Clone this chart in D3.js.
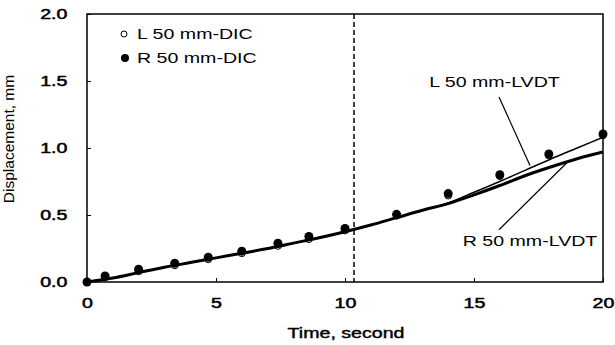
<!DOCTYPE html>
<html>
<head>
<meta charset="utf-8">
<script src="https://cdn.jsdelivr.net/npm/d3@7"></script>
<style>
  body { margin: 0; background: #fff; }
  text { font-family: "Liberation Sans", Arial, sans-serif; fill: #000; }
</style>
</head>
<body>
<svg id="chart" width="615" height="345"></svg>
<script>
// DIC readings (markers)
const dicTime = [0, 0.7, 2.0, 3.4, 4.7, 6.0, 7.4, 8.6, 10.0, 12.0, 14.0, 16.0, 17.9, 20.0];
const rightDic = [0, 0.045, 0.095, 0.14, 0.185, 0.23, 0.29, 0.34, 0.40, 0.505, 0.66, 0.80, 0.955, 1.105];
const leftDic = [0, 0.035, 0.08, 0.125, 0.17, 0.215, 0.27, 0.32, 0.385, 0.495, 0.645, 0.79, 0.945, 1.095];

// LVDT readings (lines)
const lvdtTime = [0, 1, 2, 3, 4, 5, 6, 7, 8, 9, 10, 11, 12, 13, 14, 15, 16, 17, 18, 19, 20];
const leftLvdt = [0, 0.03, 0.07, 0.11, 0.145, 0.18, 0.215, 0.25, 0.29, 0.33, 0.375, 0.425, 0.48, 0.535, 0.59, 0.67, 0.75, 0.835, 0.92, 1.0, 1.08];
const rightLvdt = [0, 0.03, 0.07, 0.11, 0.145, 0.18, 0.215, 0.25, 0.29, 0.33, 0.375, 0.425, 0.48, 0.535, 0.585, 0.65, 0.72, 0.795, 0.86, 0.92, 0.97];

const xTicks = [0, 5, 10, 15, 20];
const yTicks = [0, 0.5, 1.0, 1.5, 2.0];
const markerLine = 10.35;

const width = 615;
const height = 345;
const margin = { top: 14, right: 12, bottom: 63, left: 87 };
const sx = 1.4; // the scanned figure is stretched sideways

const svg = d3.select('#chart');

const x = d3.scaleLinear().domain([0, 20]).range([margin.left, width - margin.right]);
const y = d3.scaleLinear().domain([0, 2]).range([height - margin.bottom, margin.top]);

// frame
svg.append('rect')
  .attr('x', x(0))
  .attr('y', y(2))
  .attr('width', x(20) - x(0))
  .attr('height', y(0) - y(2))
  .attr('fill', 'none')
  .attr('stroke', '#000')
  .attr('stroke-width', 1.5);

const xAxis = svg.append('g')
  .attr('transform', `translate(0,${y(0)})`)
  .call(d3.axisBottom(x).tickValues(xTicks).tickSize(-4).tickPadding(16).tickFormat(d3.format('d')));

const yAxis = svg.append('g')
  .attr('transform', `translate(${x(0)},0)`)
  .call(d3.axisLeft(y).tickValues(yTicks).tickSize(-4).tickPadding(14).tickFormat(d3.format('.1f')));

[xAxis, yAxis].forEach(g => {
  g.select('.domain').remove();
  g.selectAll('.tick line').attr('stroke', '#000').attr('stroke-width', 1);
  g.selectAll('.tick text')
    .attr('font-size', 14)
    .attr('font-family', '"Liberation Sans", Arial, sans-serif')
    .attr('stroke', '#000')
    .attr('stroke-width', 0.5)
    .attr('transform', `scale(${sx},1)`);
});

// dashed marker line
svg.append('line')
  .attr('x1', x(markerLine))
  .attr('x2', x(markerLine))
  .attr('y1', y(2))
  .attr('y2', y(0))
  .attr('stroke', '#000')
  .attr('stroke-width', 1.5)
  .attr('stroke-dasharray', '5,3');

// open markers below everything
svg.append('g')
  .selectAll('circle')
  .data(dicTime)
  .join('circle')
  .attr('cx', d => x(d))
  .attr('cy', (d, i) => y(leftDic[i]))
  .attr('r', 3.5)
  .attr('fill', '#fff')
  .attr('stroke', '#000')
  .attr('stroke-width', 1);

const line = vals => d3.line()
  .x(d => x(d))
  .y((d, i) => y(vals[i]))
  .curve(d3.curveMonotoneX)(lvdtTime);

svg.append('path')
  .attr('d', line(leftLvdt))
  .attr('fill', 'none')
  .attr('stroke', '#000')
  .attr('stroke-width', 1.5);

svg.append('path')
  .attr('d', line(rightLvdt))
  .attr('fill', 'none')
  .attr('stroke', '#000')
  .attr('stroke-width', 3);

svg.append('g')
  .selectAll('circle')
  .data(dicTime)
  .join('circle')
  .attr('cx', d => x(d))
  .attr('cy', (d, i) => y(rightDic[i]))
  .attr('r', 4.5)
  .attr('fill', '#000');

function stretchText(px, py, str, anchor, heavy) {
  const t = svg.append('text')
    .attr('transform', `translate(${px},${py}) scale(${sx},1)`)
    .attr('text-anchor', anchor || 'start')
    .attr('font-size', 14)
    .text(str);
  if (heavy) t.attr('stroke', '#000').attr('stroke-width', 0.4);
}

// legend
svg.append('circle').attr('cx', 124).attr('cy', 34).attr('r', 3)
  .attr('fill', '#fff').attr('stroke', '#000').attr('stroke-width', 1);
stretchText(137, 39, 'L 50 mm-DIC');
svg.append('circle').attr('cx', 125).attr('cy', 58).attr('r', 4).attr('fill', '#000');
stretchText(137, 63, 'R 50 mm-DIC');

// callouts
stretchText(x(15.9) - 68, 87, 'L 50 mm-LVDT');
svg.append('line')
  .attr('x1', x(15.97)).attr('y1', y(1.38))
  .attr('x2', x(17.17)).attr('y2', y(0.87))
  .attr('stroke', '#000').attr('stroke-width', 1.2);

stretchText(x(17.2) - 68, 246, 'R 50 mm-LVDT');
svg.append('line')
  .attr('x1', x(15.97)).attr('y1', y(0.39))
  .attr('x2', x(18.6)).attr('y2', y(0.89))
  .attr('stroke', '#000').attr('stroke-width', 1.2);

// axis titles
stretchText(346, 338, 'Time, second', 'middle', true);

svg.append('text')
  .attr('transform', 'translate(14,139) rotate(-90)')
  .attr('text-anchor', 'middle')
  .attr('font-size', 15.5)
  .text('Displacement, mm');
</script>
</body>
</html>
